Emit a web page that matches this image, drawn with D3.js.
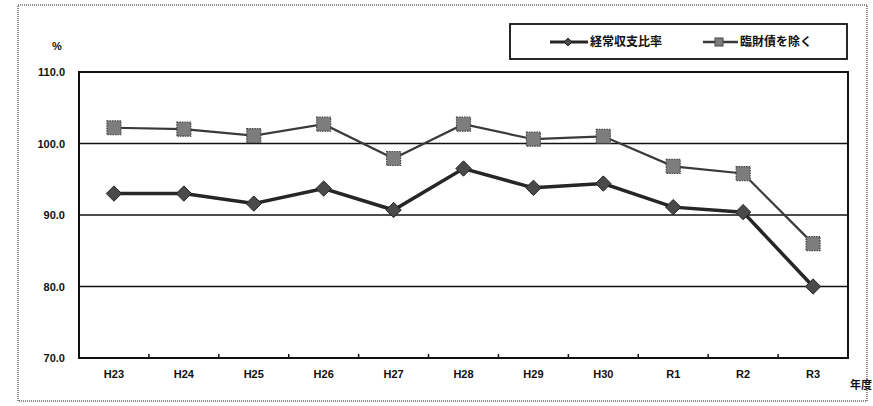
<!DOCTYPE html>
<html>
<head>
<meta charset="utf-8">
<script src="https://cdn.jsdelivr.net/npm/d3@7"></script>
<style>
  body { margin: 0; background: #fff; }
  text { font-family: "Liberation Sans", Arial, sans-serif; font-weight: bold; fill: #111; }
  .jp { font-family: "Noto Sans CJK JP", sans-serif; font-weight: bold; }
</style>
</head>
<body>
<div id="chart"></div>
<script>
// 経常収支比率 chart
const years = ["H23", "H24", "H25", "H26", "H27", "H28", "H29", "H30", "R1", "R2", "R3"];
const keijo = [93.0, 93.0, 91.6, 93.7, 90.7, 96.5, 93.8, 94.4, 91.1, 90.4, 80.0];
const rinzai = [102.2, 102.0, 101.1, 102.7, 97.9, 102.7, 100.6, 101.0, 96.8, 95.8, 86.0];
const yTicks = [70, 80, 90, 100, 110];

const width = 873;
const height = 406;
const margin = { top: 72, right: 25, bottom: 48, left: 79 };

const svg = d3.select("#chart").append("svg")
    .attr("width", width)
    .attr("height", height);

// dotted frame round the whole figure
svg.append("rect")
    .attr("x", 18)
    .attr("y", 5)
    .attr("width", 849)
    .attr("height", 396)
    .attr("fill", "none")
    .attr("stroke", "#666")
    .attr("stroke-width", 1.5)
    .attr("stroke-dasharray", "1 1");

const x = d3.scaleBand()
    .domain(years)
    .range([margin.left, width - margin.right]);

const y = d3.scaleLinear()
    .domain([70, 110])
    .range([height - margin.bottom, margin.top]);

// gridlines
svg.append("g")
    .selectAll("line")
    .data(yTicks.filter(d => d > 70 && d < 110))
    .enter()
    .append("line")
    .attr("x1", margin.left)
    .attr("x2", width - margin.right)
    .attr("y1", d => y(d))
    .attr("y2", d => y(d))
    .attr("stroke", "#111")
    .attr("stroke-width", 1.3);

// plot border
svg.append("rect")
    .attr("x", margin.left)
    .attr("y", margin.top)
    .attr("width", width - margin.right - margin.left)
    .attr("height", height - margin.bottom - margin.top)
    .attr("fill", "none")
    .attr("stroke", "#111")
    .attr("stroke-width", 2);

// y labels
const yAxis = svg.append("g")
    .attr("transform", `translate(${margin.left},0)`)
    .call(d3.axisLeft(y).tickValues(yTicks).tickFormat(d3.format(".1f")).tickSize(0).tickPadding(14));
yAxis.select(".domain").remove();
yAxis.selectAll("text")
    .style("font-size", "11px")
    .style("font-family", "'Liberation Sans', Arial, sans-serif")
    .style("font-weight", "bold")
    .attr("fill", "#111");

// x axis: small inner ticks at category boundaries
const xAxis = svg.append("g")
    .attr("transform", `translate(0,${height - margin.bottom})`)
    .call(d3.axisBottom(x).tickSize(0).tickPadding(12));
xAxis.select(".domain").remove();
xAxis.selectAll("text")
    .style("font-size", "11px")
    .style("font-family", "'Liberation Sans', Arial, sans-serif")
    .style("font-weight", "bold")
    .attr("fill", "#111");

svg.append("g")
    .selectAll("line")
    .data(years.slice(1))
    .enter()
    .append("line")
    .attr("x1", d => x(d))
    .attr("x2", d => x(d))
    .attr("y1", height - margin.bottom)
    .attr("y2", height - margin.bottom - 4)
    .attr("stroke", "#111")
    .attr("stroke-width", 1.5);

svg.append("text")
    .attr("x", 57)
    .attr("y", 50)
    .attr("text-anchor", "middle")
    .style("font-size", "11px")
    .text("%");

svg.append("text")
    .attr("class", "jp")
    .attr("x", 850)
    .attr("y", 389)
    .style("font-size", "11px")
    .text("年度");

const cx = d => x(d) + x.bandwidth() / 2;

// 臨財債を除く
const lineR = d3.line()
    .x((d, i) => cx(years[i]))
    .y(d => y(d));

svg.append("path")
    .datum(rinzai)
    .attr("fill", "none")
    .attr("stroke", "#3a3a3a")
    .attr("stroke-width", 2.2)
    .attr("d", lineR);

svg.append("g")
    .selectAll("rect")
    .data(rinzai)
    .enter()
    .append("rect")
    .attr("x", (d, i) => cx(years[i]) - 7)
    .attr("y", d => y(d) - 7)
    .attr("width", 14)
    .attr("height", 14)
    .attr("fill", "#7d7d7d")
    .attr("stroke", "#444")
    .attr("stroke-width", 1.2)
    .attr("stroke-dasharray", "1.5 1");

// 経常収支比率
svg.append("path")
    .datum(keijo)
    .attr("fill", "none")
    .attr("stroke", "#262626")
    .attr("stroke-width", 3.5)
    .attr("d", lineR);

const diamond = d3.symbol().type(d3.symbolDiamond2).size(150);

svg.append("g")
    .selectAll("path")
    .data(keijo)
    .enter()
    .append("path")
    .attr("transform", (d, i) => `translate(${cx(years[i])},${y(d)})`)
    .attr("d", diamond)
    .attr("fill", "#4a4a4a")
    .attr("stroke", "#222")
    .attr("stroke-width", 1);

// legend
const legend = svg.append("g")
    .attr("transform", "translate(510,24)");

legend.append("rect")
    .attr("width", 337)
    .attr("height", 35)
    .attr("fill", "#fff")
    .attr("stroke", "#111")
    .attr("stroke-width", 1.8);

legend.append("line")
    .attr("x1", 40).attr("x2", 78)
    .attr("y1", 18).attr("y2", 18)
    .attr("stroke", "#262626")
    .attr("stroke-width", 3);
legend.append("path")
    .attr("transform", "translate(58,18)")
    .attr("d", d3.symbol().type(d3.symbolDiamond2).size(40))
    .attr("fill", "#4a4a4a")
    .attr("stroke", "#222");
legend.append("text")
    .attr("class", "jp")
    .attr("x", 80)
    .attr("y", 22)
    .style("font-size", "12px")
    .text("経常収支比率");

legend.append("line")
    .attr("x1", 193).attr("x2", 228)
    .attr("y1", 18).attr("y2", 18)
    .attr("stroke", "#3a3a3a")
    .attr("stroke-width", 2.5);
legend.append("rect")
    .attr("x", 205).attr("y", 14)
    .attr("width", 8).attr("height", 8)
    .attr("fill", "#7d7d7d")
    .attr("stroke", "#444");
legend.append("text")
    .attr("class", "jp")
    .attr("x", 230)
    .attr("y", 22)
    .style("font-size", "12px")
    .text("臨財債を除く");
</script>
</body>
</html>
